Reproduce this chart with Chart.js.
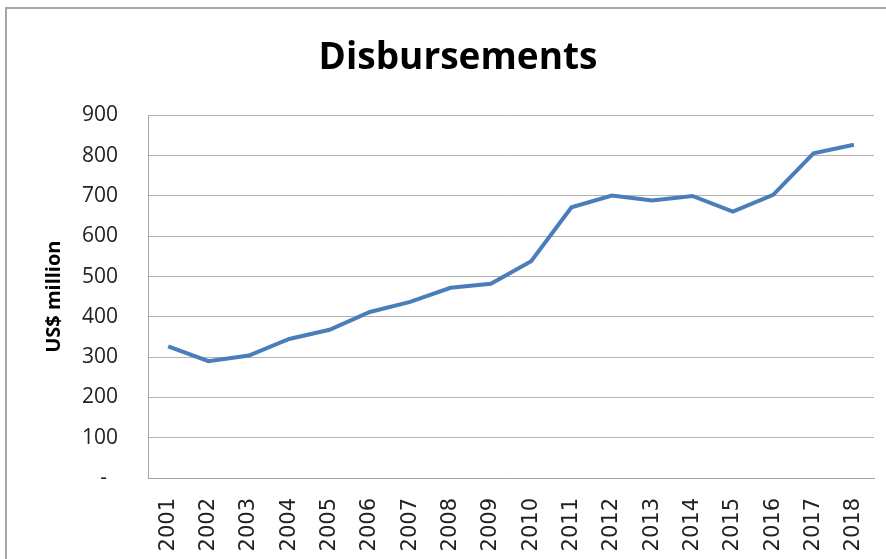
<!DOCTYPE html>
<html>
<head>
<meta charset="utf-8">
<script src="https://cdn.jsdelivr.net/npm/chart.js@4"></script>
<style>
  html, body { margin: 0; padding: 0; background: #fff; }
  #wrap { position: relative; width: 886px; height: 559px; overflow: hidden; }
  #frame {
    position: absolute; left: 5px; top: 7px; width: 900px; height: 600px;
    border-left: 2px solid #a6a6a6; border-top: 2px solid #a6a6a6;
    pointer-events: none;
  }
</style>
</head>
<body>
<div id="wrap">
  <canvas id="myChart" width="886" height="559"></canvas>
  <div id="frame"></div>
</div>
<script>
const years = ['2001', '2002', '2003', '2004', '2005', '2006', '2007', '2008', '2009',
               '2010', '2011', '2012', '2013', '2014', '2015', '2016', '2017', '2018'];
const disbursements = [327, 290, 304, 345, 368, 412, 437, 472, 482,
                       538, 672, 701, 689, 700, 661, 703, 806, 827];
const yTicks = [0, 100, 200, 300, 400, 500, 600, 700, 800, 900];

const ctx = document.getElementById('myChart');

new Chart(ctx, {
    type: 'line',
    data: {
        labels: years,
        datasets: [{
            label: 'Disbursements',
            data: disbursements,
            borderColor: '#4a7ebb',
            borderWidth: 4,
            pointRadius: 0,
            tension: 0,
            fill: false
        }]
    },
    options: {
        responsive: false,
        animation: false,
        layout: { padding: { left: 42, right: 12, top: 36, bottom: 4 } },
        plugins: {
            legend: { display: false },
            tooltip: { enabled: false },
            title: {
                display: true,
                text: 'Disbursements',
                color: '#000',
                font: { family: 'Open Sans', size: 37, weight: 'bold' },
                padding: { top: 0, bottom: 35 }
            }
        },
        scales: {
            x: {
                offset: true,
                grid: { display: false },
                border: { display: true, color: '#a6a6a6', width: 1 },
                ticks: {
                    color: '#222',
                    font: { family: 'DejaVu Sans', size: 21 },
                    minRotation: 90,
                    maxRotation: 90,
                    padding: 12,
                    autoSkip: false
                },
                afterFit: (scale) => {
                    scale.height = 77;
                    scale.paddingLeft = 0;
                    scale.paddingRight = 0;
                }
            },
            y: {
                min: 0,
                max: 900,
                afterBuildTicks: (scale) => { scale.ticks = yTicks.map(v => ({ value: v })); },
                grid: { color: '#b3b3b3', lineWidth: 1, drawTicks: false },
                border: { display: true, color: '#a6a6a6', width: 1 },
                ticks: {
                    color: '#222',
                    font: { family: 'Open Sans', size: 21 },
                    padding: 30,
                    callback: (v) => v === 0 ? '-  ' : v
                },
                title: {
                    display: true,
                    text: 'US$ million',
                    color: '#000',
                    font: { family: 'Open Sans', size: 20, weight: 'bold' },
                    padding: 0
                },
                afterFit: (scale) => { scale.width = 106; }
            }
        }
    }
});
</script>
</body>
</html>
